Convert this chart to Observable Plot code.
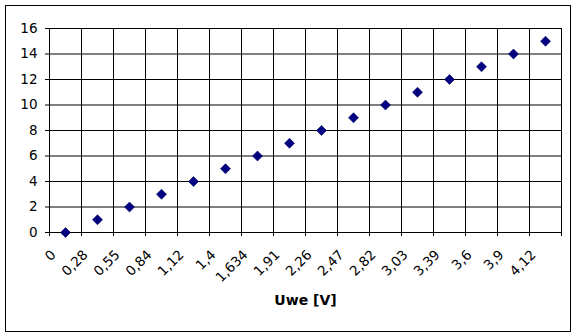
<!DOCTYPE html>
<html>
<head>
<meta charset="utf-8">
<script src="https://cdn.jsdelivr.net/npm/d3@7"></script>
<script src="https://cdn.jsdelivr.net/npm/@observablehq/plot@0.6"></script>
<style>
  html, body { margin: 0; padding: 0; background: #fff; }
  #wrap { position: relative; width: 576px; height: 336px; }
  #border { position: absolute; left: 5px; top: 5px; width: 564px; height: 325px; border: 1px solid #000; pointer-events: none; }
</style>
</head>
<body>
<div id="wrap"><div id="border"></div></div>
<script>
const categories = ["0","0,28","0,55","0,84","1,12","1,4","1,634","1,91","2,26","2,47","2,82","3,03","3,39","3,6","3,9","4,12"];
const values = [0,1,2,3,4,5,6,7,8,9,10,11,12,13,14,15];
const yTicks = [0,2,4,6,8,10,12,14,16];
const xTitle = "Uwe [V]";

const W = 576, H = 336, mL = 49, mR = 15, mT = 28, mB = 104;
const half = (W - mL - mR) / categories.length / 2;
const data = categories.map((c, i) => ({c, v: values[i]}));
const font = "DejaVu Sans, sans-serif";

const chart = Plot.plot({
  width: W, height: H,
  marginLeft: mL, marginRight: mR, marginTop: mT, marginBottom: mB,
  style: {fontFamily: font, fontSize: "13.5px", background: "transparent", color: "#000"},
  x: {type: "band", domain: categories, padding: 0, axis: null},
  y: {domain: [0, 16], axis: null},
  marks: [
    Plot.ruleY(yTicks, {y: d => d, stroke: "#000", strokeWidth: 1, strokeOpacity: 1, insetLeft: -4}),
    Plot.ruleX(categories, {x: d => d, dx: -half, stroke: "#000", strokeOpacity: 1, insetBottom: -4}),
    Plot.ruleX(categories.slice(-1), {x: d => d, dx: half, stroke: "#000", strokeOpacity: 1, insetBottom: -4}),
    Plot.text(yTicks, {y: d => d, text: d => String(d), frameAnchor: "left", textAnchor: "end", dx: -12, fill: "#000", fontSize: 13.5}),
    Plot.text(categories, {x: d => d, text: d => d, frameAnchor: "bottom", textAnchor: "end", lineAnchor: "middle", rotate: -45, dx: -12, dy: 20, fill: "#000", fontSize: 13.5}),
    Plot.text([xTitle], {text: d => d, frameAnchor: "bottom", dy: 72, fontWeight: "bold", fontSize: 14, fill: "#000"}),
    Plot.dot(data, {x: "c", y: "v", symbol: "diamond2", r: 4.5, fill: "#000080", stroke: "#00005a", strokeWidth: 0.6})
  ]
});
document.getElementById("wrap").prepend(chart);
</script>
</body>
</html>
